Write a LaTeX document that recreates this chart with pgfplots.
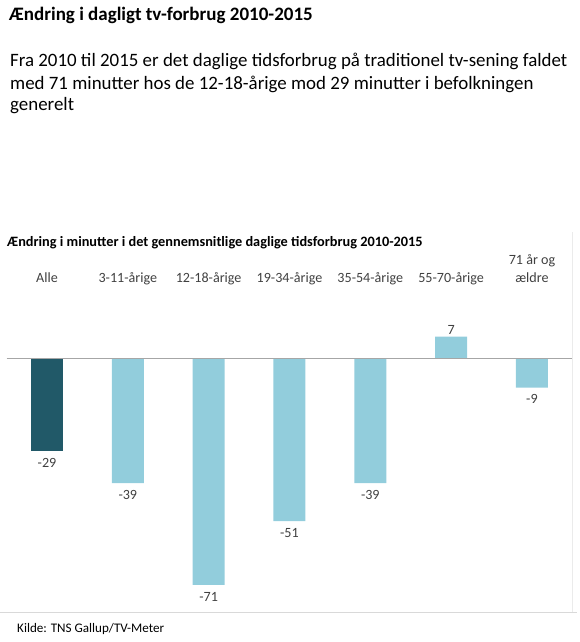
\documentclass[border=0pt]{standalone}
\usepackage{fontspec}
\setmainfont{Carlito}
\usepackage{pgfplots}
\pgfplotsset{compat=1.18}
\usetikzlibrary{calc}
\definecolor{darkteal}{HTML}{215968}
\definecolor{lightaqua}{HTML}{92CDDC}
\definecolor{txt}{HTML}{404040}
\definecolor{zeroline}{HTML}{A6A6A6}
\definecolor{sepline}{HTML}{D9D9D9}
\definecolor{frameline}{HTML}{EBEBEB}

\begin{document}
\begin{tikzpicture}[x=1pt,y=1pt]
\begin{axis}[
  scale only axis, width=565.8pt, height=343.4pt,
  xmin=-0.5, xmax=6.5, ymin=-80, ymax=28,
  hide axis, clip=false,
  ybar, bar width=32pt,
  nodes near coords,
  /pgf/number format/assume math mode=true,
  visualization depends on=rawy \as \rawy,
  nodes near coords style={font=\fontsize{14.1}{17}\selectfont, text=txt, inner sep=2pt,
    yshift={ifthenelse(\rawy<0,-5,0)}},
]
\addplot[fill=darkteal, draw=none, bar shift=0pt] coordinates {(0,-29)};
\addplot[fill=lightaqua, draw=none, bar shift=0pt] coordinates {
  (1,-39) (2,-71) (3,-51) (4,-39) (5,7) (6,-9)};
\draw[zeroline, line width=1pt] (axis cs:-0.5,0) -- (axis cs:6.5,0);
\coordinate (O) at (axis cs:0,0);

\begin{scope}[every node/.style={anchor=base, inner sep=0, text=txt, font=\fontsize{14.1}{17}\selectfont}]
\node at (axis cs:0,24) {Alle};
\node at (axis cs:1,24) {3-11-årige};
\node at (axis cs:2,24) {12-18-årige};
\node at (axis cs:3,24) {19-34-årige};
\node at (axis cs:4,24) {35-54-årige};
\node at (axis cs:5,24) {55-70-årige};
\node at (axis cs:6,29.6) {71 år og};
\node at (axis cs:6,24) {ældre};
\end{scope}
\end{axis}

% page frame: Alle's zero point sits 47pt from the left and 283pt from the bottom
\pgfresetboundingbox
\begin{scope}[shift={($(O)+(-47,-283)$)}]
\path[use as bounding box] (0,0) rectangle (580,642);

\node[anchor=base west, inner sep=0] at (9,621)
  {\fontsize{19}{22}\selectfont\bfseries Ændring i dagligt tv-forbrug 2010-2015};
\begin{scope}[every node/.style={anchor=base west, inner sep=0, font=\fontsize{18.9}{22}\selectfont}]
\node at (10,575.3) {Fra 2010 til 2015 er det daglige tidsforbrug på traditionel tv-sening faldet};
\node at (10,552.7) {med 71 minutter hos de 12-18-årige mod 29 minutter i befolkningen};
\node at (10,531) {generelt};
\end{scope}
\node[anchor=base west, inner sep=0] at (7,395)
  {\fontsize{14.3}{17}\selectfont\bfseries Ændring i minutter i det gennemsnitlige daglige tidsforbrug 2010-2015};

\draw[frameline, line width=0.8pt] (572.5,410) -- (572.5,29.5);
\draw[sepline, line width=0.8pt] (0,29.3) -- (577,29.3);
\node[anchor=base west, inner sep=0] at (17,10)
  {\fontsize{13.1}{15}\selectfont Kilde: TNS Gallup/TV-Meter};
\end{scope}
\end{tikzpicture}
\end{document}
